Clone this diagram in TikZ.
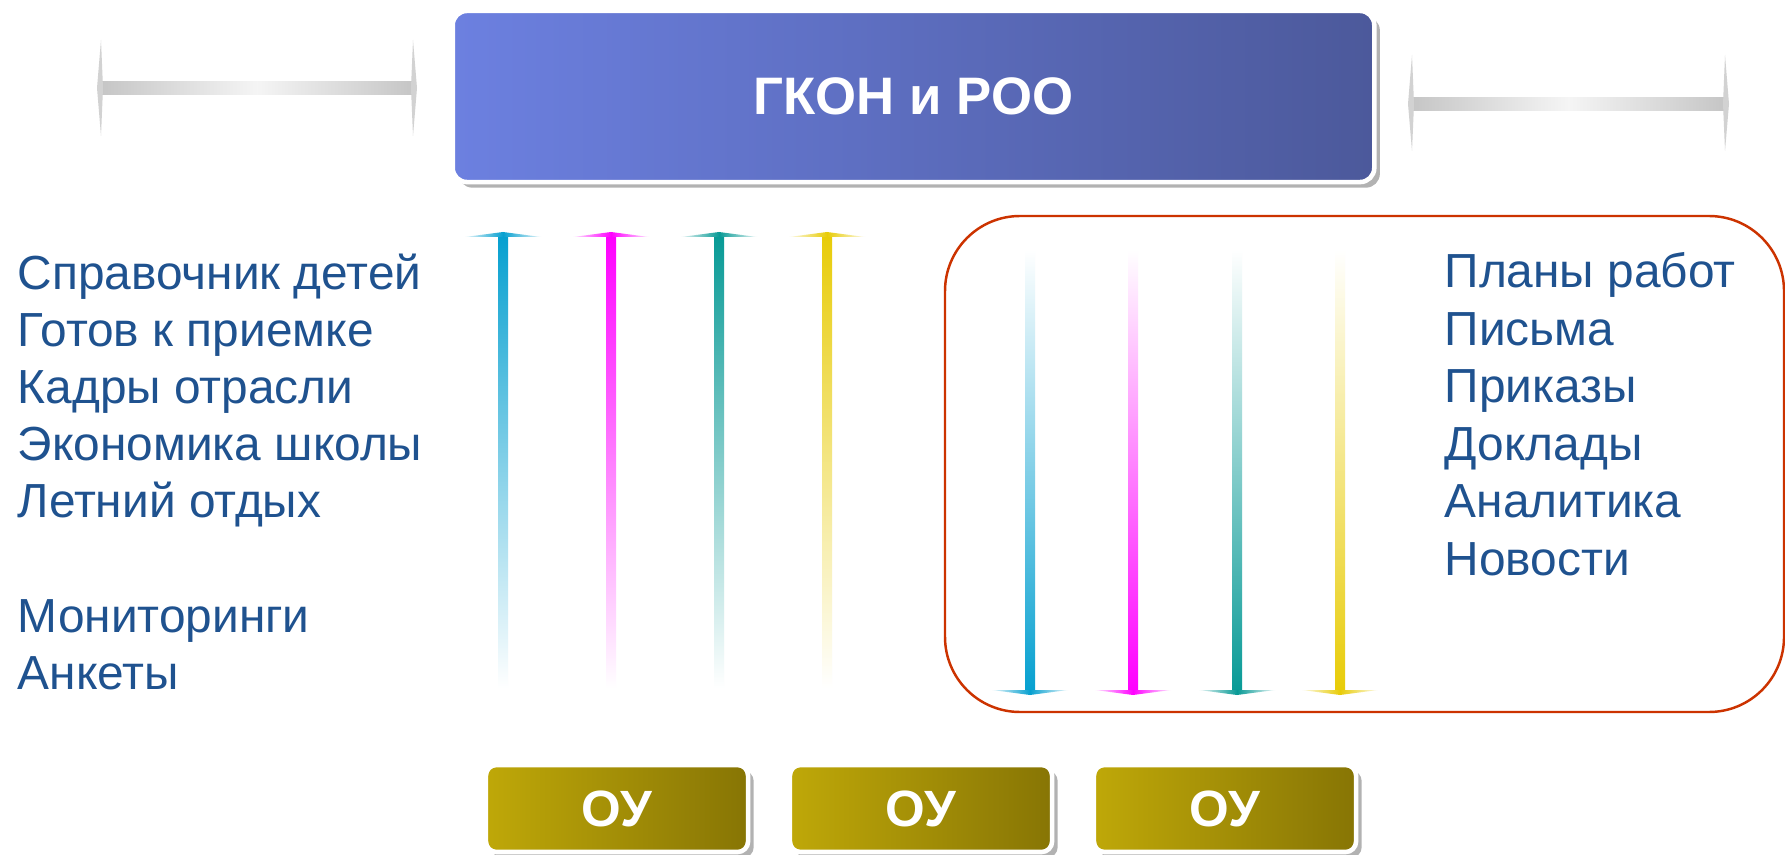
\documentclass[tikz,border=0pt]{standalone}
\usepackage{fontspec}
\setmainfont{Liberation Sans}
\usetikzlibrary{shadows}
\definecolor{txtblue}{RGB}{31,82,143}
\definecolor{framered}{RGB}{204,51,0}
\definecolor{arcyan}{RGB}{6,160,208}
\definecolor{armagenta}{RGB}{255,0,255}
\definecolor{arteal}{RGB}{8,154,150}
\definecolor{aryellow}{RGB}{232,204,8}
\definecolor{headleft}{RGB}{108,128,224}
\definecolor{headright}{RGB}{76,89,155}
\definecolor{ouleft}{RGB}{191,168,8}
\definecolor{ouright}{RGB}{135,117,5}

\begin{document}
\begin{tikzpicture}[
    x=0.01cm, y=-0.01cm,
    item/.style={anchor=base west, inner sep=0pt, text=txtblue, font=\fontsize{13.6}{16}\selectfont},
    boxshadow/.style={drop shadow={shadow xshift=1.6pt, shadow yshift=-1.6pt, opacity=0.3, fill=black}},
    headbox/.style={rectangle, rounded corners=4pt, draw=white, line width=1.3pt, left color=headleft, right color=headright, minimum width=9.21cm, minimum height=1.71cm, inner sep=0pt, text=white, font=\bfseries\fontsize{15}{18}\selectfont, boxshadow},
    oubox/.style={rectangle, rounded corners=3pt, draw=white, line width=1.3pt, left color=ouleft, right color=ouright, minimum width=2.62cm, minimum height=0.87cm, inner sep=0pt, text=white, font=\bfseries\fontsize{14.5}{17}\selectfont, boxshadow},
    greybar/.style={left color=gray!45, right color=gray!45, middle color=gray!8},
    spike/.style={fill=gray!35},
    frame/.style={draw=framered, line width=0.7pt, rounded corners=0.75cm}
  ]
    \useasboundingbox[fill=white] (0,0) rectangle (1785,855);
    % grey double arrows
    \shade[greybar] (101,82) rectangle (413,95);
    \fill[spike] (101,40) -- (97,88) -- (101,136) -- (103,88) -- cycle;
    \fill[spike] (413,40) -- (417,88) -- (413,136) -- (411,88) -- cycle;
    \shade[greybar] (1412,98) rectangle (1725,111);
    \fill[spike] (1412,55) -- (1408,104) -- (1412,151) -- (1414,104) -- cycle;
    \fill[spike] (1725,55) -- (1729,104) -- (1725,151) -- (1723,104) -- cycle;
    % top and bottom boxes
    \node[headbox] (gkon) at (913.5,96.5) {ГКОН и РОО};
    \node[oubox] (ou1) at (617,808.5) {ОУ};
    \node[oubox] (ou2) at (921,808.5) {ОУ};
    \node[oubox] (ou3) at (1225,808.5) {ОУ};
    % frame round outgoing documents
    \draw[frame] (945,216) rectangle (1784,712);
    % arrows up
    \foreach \x/\c [count=\i] in {503/arcyan, 611/armagenta, 719/arteal, 827/aryellow} {
      \coordinate (up\i) at (\x,232);
      \shade[top color=\c, bottom color=white] (\x-5,236) rectangle (\x+5,688);
      \shade[left color=\c!10, right color=\c!10, middle color=\c] (\x-38,237) -- (up\i) -- (\x+38,237) -- cycle;
    }
    % arrows down
    \foreach \x/\c [count=\i] in {1030/arcyan, 1133/armagenta, 1237/arteal, 1340/aryellow} {
      \coordinate (dn\i) at (\x,695);
      \shade[top color=white, bottom color=\c] (\x-5,250) rectangle (\x+5,691);
      \shade[left color=\c!10, right color=\c!10, middle color=\c] (\x-38,690) -- (dn\i) -- (\x+38,690) -- cycle;
    }
    % left list
    \foreach \txt [count=\i] in {Справочник детей, Готов к приемке, Кадры отрасли, Экономика школы, Летний отдых}
      \node[item] (in\i) at (17,233+57*\i) {\txt};
    \node[item] (in6) at (17,632) {Мониторинги};
    \node[item] (in7) at (17,689) {Анкеты};
    % right list
    \foreach \txt [count=\i] in {Планы работ, Письма, Приказы, Доклады, Аналитика, Новости}
      \node[item] (out\i) at (1444,230+57.6*\i) {\txt};
  \end{tikzpicture}
\end{document}
